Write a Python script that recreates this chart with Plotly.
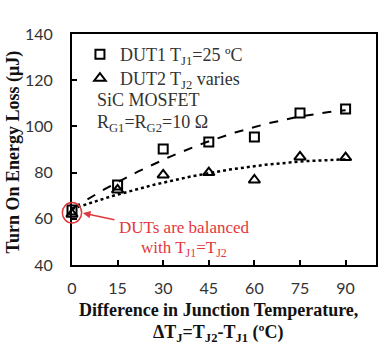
import numpy as np
import plotly.graph_objects as go

# ---- data ----
delta_tj = [0, 15, 30, 45, 60, 75, 90]
dut1_eon = [63.8, 74.6, 90.2, 93.2, 95.4, 105.8, 107.5]
dut2_eon = [62.0, 72.5, 79.0, 80.0, 76.8, 86.8, 86.5]
x_ticks = [0, 15, 30, 45, 60, 75, 90]
y_ticks = [40, 60, 80, 100, 120, 140]

W, H = 381, 344
L, R, T, B = 72, 3, 34, 79
PW, PH = W - L - R, H - T - B

def px(x):
    return (x - L) / PW

def py(y):
    return (H - B - y) / PH

SERIF = "Liberation Serif"
SANS = "Lato"
RED = "#e2373c"

xf = np.linspace(0, 90, 100)
c1 = np.polyfit(delta_tj, dut1_eon, 2)
c2 = np.polyfit(delta_tj, dut2_eon, 2)

fig = go.Figure()
fig.add_trace(go.Scatter(x=xf, y=np.polyval(c1, xf), mode="lines",
                         line=dict(color="black", width=2, dash="dash"),
                         showlegend=False, hoverinfo="skip"))
fig.add_trace(go.Scatter(x=xf, y=np.polyval(c2, xf), mode="lines",
                         line=dict(color="black", width=2.5, dash="dot"),
                         showlegend=False, hoverinfo="skip"))
fig.add_trace(go.Scatter(x=delta_tj, y=dut1_eon, mode="markers",
                         name="DUT1 T<sub>J1</sub>=25 ºC", legend="legend",
                         marker=dict(symbol="square-open", size=9, color="black",
                                     line=dict(width=2, color="black")),
                         cliponaxis=False))
fig.add_trace(go.Scatter(x=delta_tj, y=dut2_eon, mode="markers",
                         name="DUT2 T<sub>J2</sub> varies", legend="legend2",
                         marker=dict(symbol="triangle-up-open", size=10, color="black",
                                     line=dict(width=2, color="black")),
                         cliponaxis=False))

ann = []
def text(x, y, s, size=18, color="#333", bold=False, xanchor="left", angle=0):
    ann.append(dict(x=px(x), y=py(y), xref="paper", yref="paper", text=s,
                    showarrow=False, xanchor=xanchor, yanchor="middle",
                    textangle=angle,
                    font=dict(family=SERIF, size=size, color=color)))

text(95, 100, "SiC MOSFET", size=18)
text(95, 123, "R<sub>G1</sub>=R<sub>G2</sub>=10 Ω", size=18)
text(185, 227, "DUTs are balanced", size=17, color=RED, xanchor="center")
text(185, 249, "with T<sub>J1</sub>=T<sub>J2</sub>", size=17, color=RED, xanchor="center")
text(219, 310, "<b>Difference in Junction Temperature,</b>", size=18, color="#111", xanchor="center")
text(219, 333, "<b>ΔT<sub>J</sub>=T<sub>J2</sub>-T<sub>J1</sub> (ºC)</b>", size=18, color="#111", xanchor="center")
text(13, 152, "<b>Turn On Energy Loss (μJ)</b>", size=18, color="#111", xanchor="center", angle=-90)

ann.append(dict(x=px(83), y=py(213), ax=33, ay=7, xref="paper", yref="paper",
                axref="pixel", ayref="pixel", text="", showarrow=True,
                arrowhead=2, arrowsize=1, arrowwidth=1.5, arrowcolor=RED))

shapes = [dict(type="circle", xref="paper", yref="paper",
               x0=px(62.3), x1=px(81.7), y0=py(223), y1=py(202.5),
               line=dict(color=RED, width=1.5))]

leg_common = dict(xanchor="left", yanchor="top", bgcolor="rgba(0,0,0,0)",
                  font=dict(family=SERIF, size=18, color="#333"),
                  tracegroupgap=0, itemwidth=30)

fig.update_layout(
    width=W, height=H,
    margin=dict(l=L, r=R, t=T, b=B, pad=0),
    paper_bgcolor="white", plot_bgcolor="white",
    annotations=ann, shapes=shapes,
    legend=dict(x=px(80), y=py(36), **leg_common),
    legend2=dict(x=px(80), y=py(60), **leg_common),
    xaxis=dict(range=[0, 100], tickvals=x_ticks, ticks="inside", ticklen=5,
               tickwidth=1.5, tickcolor="black",
               showline=True, linecolor="black", linewidth=2, mirror=True,
               showgrid=False, zeroline=False, ticklabelstandoff=8,
               tickfont=dict(family=SANS, size=16, color="#333")),
    yaxis=dict(range=[40, 140], tickvals=y_ticks, ticks="inside", ticklen=5,
               tickwidth=1.5, tickcolor="black",
               showline=True, linecolor="black", linewidth=2, mirror=True,
               showgrid=False, zeroline=False, ticklabelstandoff=14,
               tickfont=dict(family=SANS, size=16, color="#333")),
)

fig.write_html("out.html")
